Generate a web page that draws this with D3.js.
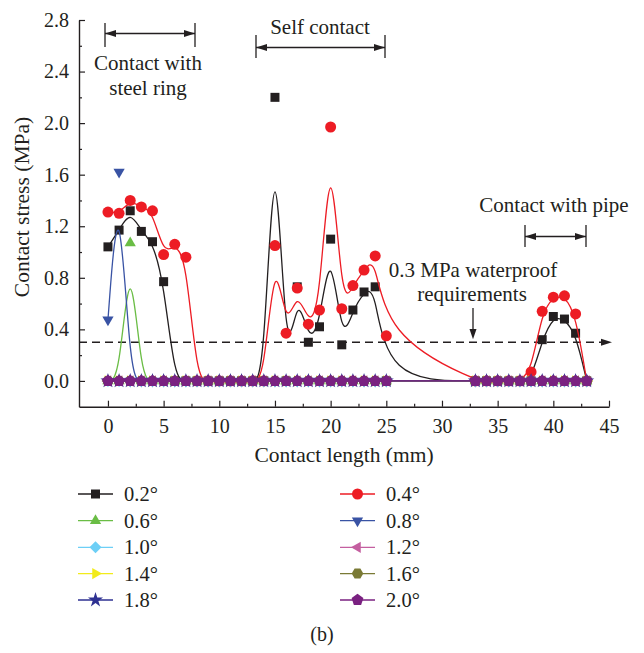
<!DOCTYPE html>
<html>
<head>
<meta charset="utf-8">
<script src="https://cdn.jsdelivr.net/npm/d3@7"></script>
<style>
  body { margin: 0; background: #fff; }
  svg { display: block; font-family: "Liberation Serif", "DejaVu Serif", serif; }
</style>
</head>
<body>
<svg id="chart" width="644" height="653"></svg>
<script>
"use strict";

// Contact length positions (mm), gap between 25 and 33
const lengths = [0, 1, 2, 3, 4, 5, 6, 7, 8, 9, 10, 11, 12, 13, 14, 15, 16, 17, 18, 19, 20, 21, 22, 23, 24, 25,
                 33, 34, 35, 36, 37, 38, 39, 40, 41, 42, 43];

// Contact stress (MPa) for each rotation angle
const stress02 = [1.04, 1.17, 1.32, 1.16, 1.08, 0.77, 0, 0, 0, 0, 0, 0, 0, 0, 0, 2.20, 0, 0.73, 0.30, 0.42, 1.10, 0.28, 0.55, 0.69, 0.73, 0,
                  0, 0, 0, 0, 0, 0, 0.32, 0.50, 0.48, 0.37, 0];
const stress04 = [1.31, 1.30, 1.40, 1.35, 1.32, 0.98, 1.06, 0.96, 0, 0, 0, 0, 0, 0, 0, 1.05, 0.37, 0.72, 0.44, 0.55, 1.97, 0.56, 0.74, 0.86, 0.97, 0.35,
                  0, 0, 0, 0, 0, 0.07, 0.54, 0.65, 0.66, 0.52, 0];
const stress06 = [0, 0, 1.07, 0, 0, 0, 0, 0, 0, 0, 0, 0, 0, 0, 0, 0, 0, 0, 0, 0, 0, 0, 0, 0, 0, 0,
                  0, 0, 0, 0, 0, 0, 0, 0, 0, 0, 0];
const stress08 = [0.475, 1.62, 0, 0, 0, 0, 0, 0, 0, 0, 0, 0, 0, 0, 0, 0, 0, 0, 0, 0, 0, 0, 0, 0, 0, 0,
                  0, 0, 0, 0, 0, 0, 0, 0, 0, 0, 0];
// 1.0 deg to 2.0 deg all read as zero
const stressZero = [0, 0, 0, 0, 0, 0, 0, 0, 0, 0, 0, 0, 0, 0, 0, 0, 0, 0, 0, 0, 0, 0, 0, 0, 0, 0,
                    0, 0, 0, 0, 0, 0, 0, 0, 0, 0, 0];

const angleLabels = ["0.2°", "0.4°", "0.6°", "0.8°", "1.0°", "1.2°", "1.4°", "1.6°", "1.8°", "2.0°"];
const angleValues = [stress02, stress04, stress06, stress08, stressZero, stressZero, stressZero, stressZero, stressZero, stressZero];
const angleColors = ["#231f20", "#ed1c24", "#6abd45", "#3953a4", "#6dcff6", "#c45fa0", "#f2eb1b", "#7a7a35", "#2e3192", "#7a2181"];
const angleShapes = ["square", "circle", "up", "down", "diamond", "left", "right", "hexagon", "star", "pentagon"];

const xTicks = [0, 5, 10, 15, 20, 25, 30, 35, 40, 45];
const yTicks = [0, 0.4, 0.8, 1.2, 1.6, 2.0, 2.4, 2.8];

const svg = d3.select("#chart");

const x = d3.scaleLinear().domain([-2.6, 45]).range([79, 609]);
const y = d3.scaleLinear().domain([-0.2, 2.8]).range([406.7, 20]);

drawAxes();
drawAnnotations();
drawSeries();
drawLegend();

function drawAxes() {
  // minor ticks
  svg.append("g")
      .attr("transform", "translate(0," + y.range()[0] + ")")
      .call(d3.axisBottom(x).tickValues(d3.range(2.5, 45, 5)).tickSizeInner(-3).tickSizeOuter(0).tickFormat(""))
      .call(g => g.select(".domain").remove());
  svg.append("g")
      .attr("transform", "translate(" + x.range()[0] + ",0)")
      .call(d3.axisLeft(y).tickValues([0.2, 0.6, 1.0, 1.4, 1.8, 2.2, 2.6]).tickSizeInner(-3).tickSizeOuter(0).tickFormat(""))
      .call(g => g.select(".domain").remove());

  // major ticks
  const xAxis = svg.append("g")
      .attr("transform", "translate(0," + y.range()[0] + ")")
      .call(d3.axisBottom(x).tickValues(xTicks).tickSizeInner(-6).tickSizeOuter(0).tickPadding(9));
  svg.append("g")
      .attr("transform", "translate(" + x.range()[0] + ",0)")
      .call(d3.axisLeft(y).tickValues(yTicks).tickSizeInner(-6).tickSizeOuter(0).tickPadding(10)
        .tickFormat(d3.format(".1f")));

  svg.selectAll(".tick line").attr("stroke", "#231f20").attr("stroke-width", 1.2);
  svg.selectAll(".domain").attr("stroke", "#231f20").attr("stroke-width", 1.4);
  svg.selectAll(".tick text")
      .attr("font-family", "Liberation Serif")
      .attr("font-size", 20)
      .attr("fill", "#231f20");
  xAxis.selectAll(".tick text").attr("dy", "0.85em");

  // axis titles
  svg.append("text")
      .attr("x", 344)
      .attr("y", 462)
      .attr("text-anchor", "middle")
      .attr("font-size", 21.5)
      .attr("fill", "#231f20")
      .text("Contact length (mm)");

  svg.append("text")
      .attr("transform", "translate(29,207) rotate(-90)")
      .attr("text-anchor", "middle")
      .attr("font-size", 21.5)
      .attr("fill", "#231f20")
      .text("Contact stress (MPa)");
}

function drawAnnotations() {
  const ink = "#231f20";

  // double headed range arrows
  const ranges = [
    {x1: 105, x2: 195, y: 33.5, top: 23, bottom: 47},
    {x1: 256, x2: 385, y: 47.5, top: 35, bottom: 58},
    {x1: 525, x2: 586, y: 236.5, top: 225, bottom: 247}
  ];
  ranges.forEach(r => {
    const g = svg.append("g");
    g.append("line").attr("x1", r.x1).attr("x2", r.x2).attr("y1", r.y).attr("y2", r.y)
        .attr("stroke", ink).attr("stroke-width", 1.3);
    [r.x1, r.x2].forEach(bx => {
      g.append("line").attr("x1", bx).attr("x2", bx).attr("y1", r.top).attr("y2", r.bottom)
          .attr("stroke", ink).attr("stroke-width", 1.3);
    });
    g.append("path")
        .attr("d", "M" + r.x1 + "," + r.y + "L" + (r.x1 + 11) + "," + (r.y - 3.5) + "L" + (r.x1 + 11) + "," + (r.y + 3.5) + "Z")
        .attr("fill", ink);
    g.append("path")
        .attr("d", "M" + r.x2 + "," + r.y + "L" + (r.x2 - 11) + "," + (r.y - 3.5) + "L" + (r.x2 - 11) + "," + (r.y + 3.5) + "Z")
        .attr("fill", ink);
  });

  const labels = [
    {text: "Contact with", x: 148, y: 70},
    {text: "steel ring", x: 148, y: 95},
    {text: "Self contact", x: 320, y: 34},
    {text: "Contact with pipe", x: 554, y: 212},
    {text: "0.3 MPa waterproof", x: 473, y: 277},
    {text: "requirements", x: 472, y: 301}
  ];
  svg.selectAll(".note")
      .data(labels)
    .enter().append("text")
      .attr("class", "note")
      .attr("x", d => d.x)
      .attr("y", d => d.y)
      .attr("text-anchor", "middle")
      .attr("font-size", 21)
      .attr("fill", ink)
      .text(d => d.text);

  // 0.3 MPa requirement line
  const yReq = y(0.3);
  svg.append("line")
      .attr("x1", x.range()[0]).attr("x2", 604)
      .attr("y1", yReq).attr("y2", yReq)
      .attr("stroke", ink)
      .attr("stroke-width", 1.3)
      .attr("stroke-dasharray", "8,5");
  svg.append("path")
      .attr("d", "M612," + yReq + "L601," + (yReq - 3.5) + "L601," + (yReq + 3.5) + "Z")
      .attr("fill", ink);

  // down arrow to the line
  svg.append("line")
      .attr("x1", 473).attr("x2", 473).attr("y1", 308).attr("y2", 330)
      .attr("stroke", ink).attr("stroke-width", 1.3);
  svg.append("path")
      .attr("d", "M473," + (yReq - 3) + "L469.5,329L476.5,329Z")
      .attr("fill", ink);
}

function polygon(n, r, rot) {
  const pts = d3.range(n).map(i => {
    const a = rot + 2 * Math.PI * i / n;
    return [r * Math.sin(a), -r * Math.cos(a)];
  });
  return "M" + pts.join("L") + "Z";
}

function shapePath(shape) {
  switch (shape) {
    case "square": return "M-4.5,-4.5H4.5V4.5H-4.5Z";
    case "circle": return d3.symbol().type(d3.symbolCircle).size(Math.PI * 5.5 * 5.5)();
    case "up": return polygon(3, 6.5, 0);
    case "down": return polygon(3, 6.5, Math.PI);
    case "left": return polygon(3, 6.5, -Math.PI / 2);
    case "right": return polygon(3, 6.5, Math.PI / 2);
    case "diamond": return polygon(4, 6, 0);
    case "hexagon": return polygon(6, 5.8, Math.PI / 6);
    case "star": return d3.symbol().type(d3.symbolStar).size(70)();
    case "pentagon": return polygon(5, 6.2, 0);
  }
}

function drawSeries() {
  const line = d3.line()
      .x(d => x(d[0]))
      .y(d => y(d[1]))
      .curve(d3.curveBasis);

  angleValues.forEach((values, i) => {
    const pts = lengths.map((l, j) => [l, values[j]]);
    const g = svg.append("g").attr("class", "series");

    g.append("path")
        .attr("d", line(pts))
        .attr("fill", "none")
        .attr("stroke", angleColors[i])
        .attr("stroke-width", 1.3);

    g.selectAll(".mark")
        .data(pts)
      .enter().append("path")
        .attr("class", "mark")
        .attr("transform", d => "translate(" + x(d[0]) + "," + y(d[1]) + ")")
        .attr("d", shapePath(angleShapes[i]))
        .attr("fill", angleColors[i]);
  });
}

function drawLegend() {
  const colX = [78, 340];
  const rowY = [494, 520.7, 547.3, 573.6, 600];

  const item = svg.selectAll(".legend")
      .data(angleLabels)
    .enter().append("g")
      .attr("class", "legend")
      .attr("transform", (d, i) => "translate(" + colX[i % 2] + "," + rowY[Math.floor(i / 2)] + ")");

  item.append("line")
      .attr("x1", 0).attr("x2", 35)
      .attr("stroke", (d, i) => angleColors[i])
      .attr("stroke-width", 1.3);

  item.append("path")
      .attr("transform", "translate(17.5,0)")
      .attr("d", (d, i) => shapePath(angleShapes[i]))
      .attr("fill", (d, i) => angleColors[i]);

  item.append("text")
      .attr("x", 46)
      .attr("y", 7)
      .attr("font-size", 20.5)
      .attr("fill", "#231f20")
      .text(d => d);

  svg.append("text")
      .attr("x", 322)
      .attr("y", 641)
      .attr("text-anchor", "middle")
      .attr("font-size", 20)
      .attr("fill", "#231f20")
      .text("(b)");
}
</script>
</body>
</html>
